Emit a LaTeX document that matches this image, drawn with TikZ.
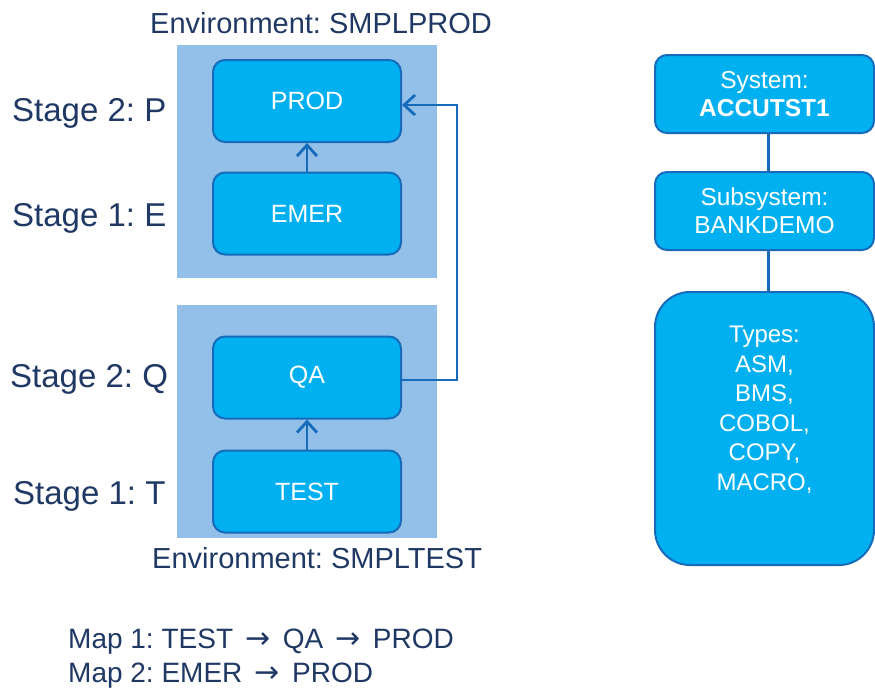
\documentclass[tikz,border=0pt]{standalone}
\usepackage{fontspec}
\setmainfont{Liberation Sans}
\newfontfamily\arrowfont{DejaVu Sans}
\frenchspacing
\usetikzlibrary{arrows.meta}
\definecolor{envfill}{RGB}{146,192,232}
\definecolor{boxfill}{RGB}{0,176,240}
\definecolor{boxline}{RGB}{22,108,186}
\definecolor{txt}{RGB}{31,56,100}
\newcommand{\maparrow}{\hspace{4.5pt}{\arrowfont\fontsize{30}{28}\selectfont →}\hspace{4.5pt}}
\begin{document}
\begin{tikzpicture}[x=1pt,y=-1pt,
  envbox/.style={fill=envfill, draw=none, minimum width=260pt, minimum height=233pt, inner sep=0pt},
  stagebox/.style={draw=boxline, line width=2pt, fill=boxfill, rounded corners=12pt, text=white,
    font=\fontsize{25}{30}\selectfont, minimum width=188pt, minimum height=82pt, inner sep=0pt},
  sysbox/.style={draw=boxline, line width=2pt, fill=boxfill, rounded corners=12pt, text=white,
    font=\fontsize{24.5}{28}\selectfont, minimum width=219pt, minimum height=78pt, inner sep=0pt, align=center},
  boxtxt/.style={text=white, font=\fontsize{24}{29.5}\selectfont, inner sep=0pt, align=center},
  stagelbl/.style={text=txt, inner sep=0pt, anchor=base west, font=\fontsize{33}{36}\selectfont},
  envlbl/.style={text=txt, inner sep=0pt, anchor=base west, font=\fontsize{29}{32}\selectfont},
  maplbl/.style={text=txt, inner sep=0pt, anchor=base west, font=\fontsize{28}{32}\selectfont},
  conn/.style={draw=boxline, line width=2.8pt},
  tip/.style={-{Straight Barb[length=11pt,width=20pt,line width=2.8pt]}}
]
\useasboundingbox (0,0) rectangle (875,689);

% environments
\node[envbox] (envP) at (307,161.5) {};
\node[envbox] (envT) at (307,421.5) {};

% stage boxes
\node[stagebox] (PROD) at (307,101) {PROD};
\node[stagebox] (EMER) at (307,213.5) {EMER};
\node[stagebox] (QA) at (307,377.5) {QA};
\node[stagebox] (TEST) at (307,491.5) {TEST};

\draw[conn,tip] (EMER) -- (PROD);
\draw[conn,tip] (TEST) -- (QA);
\draw[conn,tip] ([yshift=-2.5pt]QA.east) -- ++(55,0) |- ([yshift=-4pt]PROD.east);

% labels
\node[envlbl] (envPlbl) at (150,33) {Environment: SMPLPROD};
\node[envlbl] (envTlbl) at (152,568) {Environment: SMPLTEST};
\node[stagelbl] (s2p) at (12,121) {Stage 2: P};
\node[stagelbl] (s1e) at (12,226) {Stage 1: E};
\node[stagelbl] (s2q) at (10,387) {Stage 2: Q};
\node[stagelbl] (s1t) at (13,504) {Stage 1: T};

\node[maplbl] (map1) at (68,648) {Map 1: TEST \maparrow{} QA \maparrow{} PROD};
\node[maplbl] (map2) at (68,682) {Map 2: EMER \maparrow{} PROD};

% system hierarchy
\node[sysbox] (SYS) at (764.5,94) {System:\\\textbf{ACCUTST1}};
\node[sysbox] (SUB) at (764.5,211) {Subsystem:\\BANKDEMO};
\node[sysbox, minimum height=273pt, rounded corners=35pt] (TYP) at (764.5,428.5) {};
\node[boxtxt] (TYPtxt) at (764.5,410) {Types:\\ASM,\\BMS,\\COBOL,\\COPY,\\MACRO,};

\draw[conn] ([xshift=4pt]SYS.south) -- ([xshift=4pt]SUB.north);
\draw[conn] ([xshift=4pt]SUB.south) -- ([xshift=4pt]TYP.north);
\end{tikzpicture}
\end{document}
